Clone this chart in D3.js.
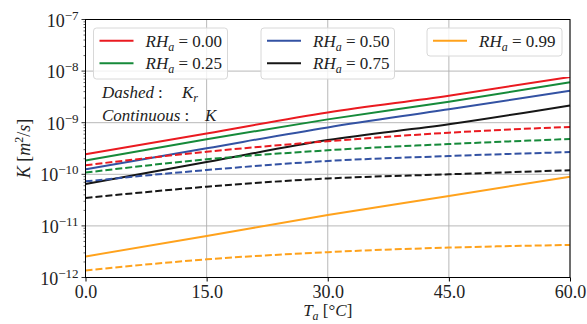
<!DOCTYPE html>
<html>
<head>
<meta charset="utf-8">
<script src="https://cdn.jsdelivr.net/npm/d3@7"></script>
<style>
  body { margin: 0; background: #fff; }
  svg text { font-family: "Liberation Serif", "DejaVu Serif", serif; fill: #222; }
</style>
</head>
<body>
<svg id="chart" width="587" height="324"></svg>
<script>
// temperatures read at the major ticks
const temps = [0, 15, 30, 45, 60];

// continuous lines: K
const kRH000 = [2.44e-10, 6.2e-10, 1.58e-9, 3.33e-9, 7.7e-9];
const kRH025 = [1.85e-10, 4.8e-10, 1.16e-9, 2.55e-9, 6.07e-9];
const kRH050 = [1.25e-10, 3.2e-10, 8.1e-10, 1.82e-9, 4.17e-9];
const kRH075 = [6.5e-11, 1.73e-10, 4.6e-10, 9.3e-10, 2.16e-9];
const kRH099 = [2.56e-12, 6.4e-12, 1.62e-11, 3.8e-11, 9.0e-11];

// dashed lines: K_r
const krRH000 = [1.5e-10, 2.74e-10, 4.37e-10, 6.4e-10, 8.3e-10];
const krRH025 = [1.08e-10, 1.95e-10, 2.92e-10, 3.86e-10, 4.83e-10];
const krRH050 = [7.3e-11, 1.21e-10, 1.81e-10, 2.26e-10, 2.7e-10];
const krRH075 = [3.47e-11, 5.75e-11, 8.3e-11, 1.0e-10, 1.2e-10];
const krRH099 = [1.37e-12, 2.25e-12, 3.1e-12, 3.8e-12, 4.27e-12];

const rhLabels = ['0.00', '0.25', '0.50', '0.75', '0.99'];
const colors = ['#ea1a20', '#168a3a', '#3352a3', '#161616', '#ffa21c'];
const xTicks = [0, 15, 30, 45, 60];
const yExps = [-12, -11, -10, -9, -8, -7];

const series = [
  { rh: 0, vals: kRH000, dash: null },
  { rh: 1, vals: kRH025, dash: null },
  { rh: 2, vals: kRH050, dash: null },
  { rh: 3, vals: kRH075, dash: null },
  { rh: 4, vals: kRH099, dash: null },
  { rh: 0, vals: krRH000, dash: '7,3' },
  { rh: 1, vals: krRH025, dash: '7,3' },
  { rh: 2, vals: krRH050, dash: '7,3' },
  { rh: 3, vals: krRH075, dash: '7,3' },
  { rh: 4, vals: krRH099, dash: '7,3' },
];

const svg = d3.select('#chart');
const margin = { left: 85.5, right: 17, top: 19.5, bottom: 46.5 };
const width = +svg.attr('width');
const height = +svg.attr('height');

const x = d3.scaleLinear().domain([0, 60]).range([margin.left, width - margin.right]);
const y = d3.scaleLog().domain([1e-12, 1e-7]).range([height - margin.bottom, margin.top]);

// grid
const grid = svg.append('g');
grid.selectAll('line.gx').data(xTicks).enter().append('line')
  .attr('x1', d => x(d)).attr('x2', d => x(d))
  .attr('y1', margin.top).attr('y2', height - margin.bottom)
  .attr('stroke', '#b0b0b0').attr('stroke-width', 0.9);
grid.selectAll('line.gy').data(yExps).enter().append('line')
  .attr('y1', d => y(Math.pow(10, d))).attr('y2', d => y(Math.pow(10, d)))
  .attr('x1', margin.left).attr('x2', width - margin.right)
  .attr('stroke', '#b0b0b0').attr('stroke-width', 0.9);

// lines
const line = d3.line()
  .x((d, i) => x(temps[i]))
  .y(d => y(d))
  .curve(d3.curveMonotoneX);

svg.append('g').selectAll('path').data(series).enter().append('path')
  .attr('d', d => line(d.vals))
  .attr('fill', 'none')
  .attr('stroke', d => colors[d.rh])
  .attr('stroke-width', 2)
  .attr('stroke-dasharray', d => d.dash);

// axes
const xAxis = d3.axisBottom(x).tickValues(xTicks).tickFormat(d3.format('.1f'))
  .tickSize(4).tickPadding(4);
const gx = svg.append('g').attr('transform', `translate(0,${height - margin.bottom})`).call(xAxis);
gx.select('.domain').remove();
gx.selectAll('text').style('font-size', '18px').attr('fill', '#222').attr('font-family', null);

// y ticks: major + minor
const minor = [];
for (let e = -12; e < -7; e++) for (let m = 2; m <= 9; m++) minor.push(m * Math.pow(10, e));
const gy = svg.append('g');
gy.selectAll('line.minor').data(minor).enter().append('line')
  .attr('x1', margin.left - 2).attr('x2', margin.left)
  .attr('y1', d => y(d)).attr('y2', d => y(d))
  .attr('stroke', '#000').attr('stroke-width', 0.6);
gy.selectAll('line.major').data(yExps).enter().append('line')
  .attr('x1', margin.left - 4).attr('x2', margin.left)
  .attr('y1', d => y(Math.pow(10, d))).attr('y2', d => y(Math.pow(10, d)))
  .attr('stroke', '#000').attr('stroke-width', 0.8);
const yl = gy.selectAll('text').data(yExps).enter().append('text')
  .attr('x', margin.left - 7)
  .attr('y', d => y(Math.pow(10, d)) + 7)
  .attr('text-anchor', 'end')
  .style('font-size', '18px');
yl.append('tspan').text('10');
yl.append('tspan').attr('dy', -7).style('font-size', '13px').text(d => '\u2212' + Math.abs(d));

// frame
svg.append('rect')
  .attr('x', margin.left).attr('y', margin.top)
  .attr('width', width - margin.left - margin.right)
  .attr('height', height - margin.top - margin.bottom)
  .attr('fill', 'none').attr('stroke', '#000').attr('stroke-width', 1);

// axis labels
const xl = svg.append('text')
  .attr('x', (margin.left + width - margin.right) / 2).attr('y', 316)
  .attr('text-anchor', 'middle').style('font-size', '17px');
xl.append('tspan').style('font-style', 'italic').text('T');
xl.append('tspan').attr('dy', 4).style('font-size', '12px').style('font-style', 'italic').text('a');
xl.append('tspan').attr('dy', -4).text('  [°');
xl.append('tspan').style('font-style', 'italic').text('C');
xl.append('tspan').text(']');

const ylab = svg.append('text')
  .attr('transform', `translate(30,${(margin.top + height - margin.bottom) / 2}) rotate(-90)`)
  .attr('text-anchor', 'middle').style('font-size', '18px');
ylab.append('tspan').style('font-style', 'italic').text('K');
ylab.append('tspan').text('  [');
ylab.append('tspan').style('font-style', 'italic').text('m');
ylab.append('tspan').attr('dy', -7).style('font-size', '12px').text('2');
ylab.append('tspan').attr('dy', 7).text('/');
ylab.append('tspan').style('font-style', 'italic').text('s');
ylab.append('tspan').text(']');

// annotations: colon after the measured word, symbol at its own column
const notes = [
  { word: 'Dashed', sub: 'r', y: 98, sym: 182 },
  { word: 'Continuous', sub: null, y: 121, sym: 205 },
];
notes.forEach(n => {
  const w = svg.append('text').attr('x', 102).attr('y', n.y)
    .style('font-size', '17px').style('font-style', 'italic').text(n.word);
  const end = 102 + w.node().getComputedTextLength();
  svg.append('text').attr('x', end + 4).attr('y', n.y).style('font-size', '17px').text(':');
  const s = svg.append('text').attr('x', Math.max(n.sym, end + 16)).attr('y', n.y)
    .style('font-size', '17px').style('font-style', 'italic');
  s.append('tspan').text('K');
  if (n.sub) s.append('tspan').attr('dy', 4).style('font-size', '12px').text(n.sub);
});

// legends
const legends = [
  { x: 93.5, w: 134, items: [0, 1] },
  { x: 261, w: 133.5, items: [2, 3] },
  { x: 427, w: 135, items: [4] },
];
legends.forEach(lg => {
  const g = svg.append('g');
  g.append('rect')
    .attr('x', lg.x).attr('y', 28)
    .attr('width', lg.w).attr('height', 5 + lg.items.length * 23)
    .attr('rx', 3)
    .attr('fill', 'rgba(255,255,255,0.8)').attr('stroke', '#d8d8d8').attr('stroke-width', 1);
  lg.items.forEach((k, i) => {
    const yy = 40.7 + i * 22.6;
    g.append('line')
      .attr('x1', lg.x + 6).attr('x2', lg.x + 40)
      .attr('y1', yy).attr('y2', yy)
      .attr('stroke', colors[k]).attr('stroke-width', 2);
    const t = g.append('text').attr('x', lg.x + 52).attr('y', yy + 6).style('font-size', '17px');
    t.append('tspan').style('font-style', 'italic').text('RH');
    t.append('tspan').attr('dy', 4).style('font-size', '12px').style('font-style', 'italic').text('a');
    t.append('tspan').attr('dy', -4).text(' = ' + rhLabels[k]);
  });
});
</script>
</body>
</html>
